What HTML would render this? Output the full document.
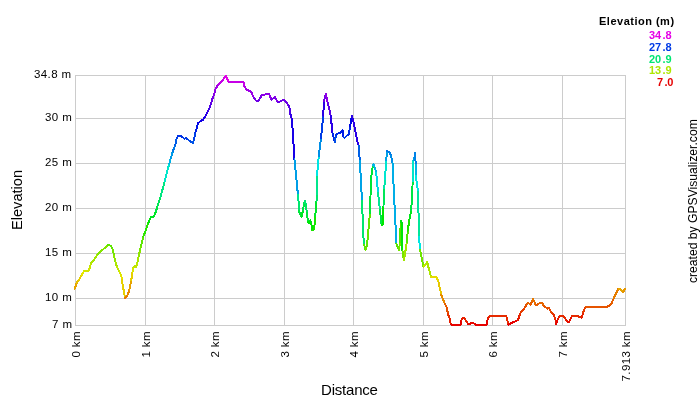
<!DOCTYPE html>
<html><head><meta charset="utf-8"><style>
html,body{margin:0;padding:0;background:#fff;}
body{width:700px;height:400px;position:relative;overflow:hidden;-webkit-font-smoothing:antialiased;font-family:"Liberation Sans",sans-serif;color:#000;}
.g{position:absolute;background:#cccccc;}
body>div:not(.g){will-change:transform;}
.yl{position:absolute;right:628px;font-size:11.5px;line-height:12px;letter-spacing:0.4px;white-space:nowrap;text-align:right;}
.xl{position:absolute;font-size:11.5px;line-height:12px;letter-spacing:0.4px;white-space:nowrap;transform-origin:0 0;transform:rotate(-90deg);}
.leg{position:absolute;right:28.9px;font-size:11px;font-weight:bold;line-height:11px;text-align:right;white-space:nowrap;}
svg{position:absolute;left:0;top:0;}
</style></head><body>

<div class="g" style="left:75px;top:75px;width:1px;height:251px"></div>
<div class="g" style="left:145px;top:75px;width:1px;height:251px"></div>
<div class="g" style="left:214px;top:75px;width:1px;height:251px"></div>
<div class="g" style="left:284px;top:75px;width:1px;height:251px"></div>
<div class="g" style="left:353px;top:75px;width:1px;height:251px"></div>
<div class="g" style="left:423px;top:75px;width:1px;height:251px"></div>
<div class="g" style="left:492px;top:75px;width:1px;height:251px"></div>
<div class="g" style="left:562px;top:75px;width:1px;height:251px"></div>
<div class="g" style="left:625px;top:75px;width:1px;height:251px"></div>
<div class="g" style="left:75px;top:75px;width:551px;height:1px"></div>
<div class="g" style="left:75px;top:118px;width:551px;height:1px"></div>
<div class="g" style="left:75px;top:163px;width:551px;height:1px"></div>
<div class="g" style="left:75px;top:208px;width:551px;height:1px"></div>
<div class="g" style="left:75px;top:253px;width:551px;height:1px"></div>
<div class="g" style="left:75px;top:298px;width:551px;height:1px"></div>
<div class="g" style="left:75px;top:325px;width:551px;height:1px"></div>
<div class="yl" style="top:68px">34.8 m</div>
<div class="yl" style="top:111px">30 m</div>
<div class="yl" style="top:156px">25 m</div>
<div class="yl" style="top:201px">20 m</div>
<div class="yl" style="top:246px">15 m</div>
<div class="yl" style="top:291px">10 m</div>
<div class="yl" style="top:318px">7 m</div>
<div class="xl" style="left:70.4px;top:401.4px;width:70px;text-align:right">0 km</div>
<div class="xl" style="left:140.4px;top:401.4px;width:70px;text-align:right">1 km</div>
<div class="xl" style="left:209.4px;top:401.4px;width:70px;text-align:right">2 km</div>
<div class="xl" style="left:279.4px;top:401.4px;width:70px;text-align:right">3 km</div>
<div class="xl" style="left:348.4px;top:401.4px;width:70px;text-align:right">4 km</div>
<div class="xl" style="left:418.4px;top:401.4px;width:70px;text-align:right">5 km</div>
<div class="xl" style="left:487.4px;top:401.4px;width:70px;text-align:right">6 km</div>
<div class="xl" style="left:557.4px;top:401.4px;width:70px;text-align:right">7 km</div>
<div class="xl" style="left:620.4px;top:401.4px;width:70px;text-align:right">7.913 km</div>
<div style="position:absolute;left:10.4px;top:230px;font-size:14.6px;line-height:15px;transform-origin:0 0;transform:rotate(-90deg);white-space:nowrap">Elevation</div>
<div style="position:absolute;left:321px;top:382px;font-size:15px;line-height:15px;letter-spacing:-0.2px;white-space:nowrap">Distance</div>
<div style="position:absolute;left:686.6px;top:282.8px;font-size:12.15px;line-height:12px;transform-origin:0 0;transform:rotate(-90deg);white-space:nowrap">created by GPSVisualizer.com</div>
<div class="leg" style="top:16px;letter-spacing:0.5px;right:25px">Elevation (m)</div>
<div class="leg" style="top:30.00px;color:#e500e6;">34<span style="margin:0 -0.2px 0 1.3px">.</span>8</div>
<div class="leg" style="top:41.75px;color:#003be6;">27<span style="margin:0 -0.2px 0 1.3px">.</span>8</div>
<div class="leg" style="top:53.50px;color:#00e673;">20<span style="margin:0 -0.2px 0 1.3px">.</span>9</div>
<div class="leg" style="top:65.25px;color:#aee600;">13<span style="margin:0 -0.2px 0 1.3px">.</span>9</div>
<div class="leg" style="top:77.00px;color:#e60000;right:27px;">7<span style="margin:0 -0.2px 0 1.3px">.</span>0</div>
<svg width="700" height="400" viewBox="0 0 700 400"><g stroke-width="2" stroke-linecap="round" stroke-linejoin="round" fill="none" shape-rendering="crispEdges">
<path d="M74.50 289.20 L76.80 282.70" stroke="#e6a400"/>
<path d="M76.80 282.70 L78.90 280.00" stroke="#e6c200"/>
<path d="M78.90 280.00 L81.60 275.10" stroke="#e6cf00"/>
<path d="M81.60 275.10 L84.40 270.60" stroke="#e6e500"/>
<path d="M84.40 270.60 L88.50 271.00" stroke="#d1e600"/>
<path d="M88.50 271.00 L89.90 267.60" stroke="#d3e600"/>
<path d="M89.90 267.60 L91.00 262.80" stroke="#c4e600"/>
<path d="M91.00 262.80 L93.30 260.70" stroke="#aee600"/>
<path d="M93.30 260.70 L98.10 253.80" stroke="#a4e600"/>
<path d="M98.10 253.80 L108.00 245.00" stroke="#84e600"/>
<path d="M108.00 245.00 L111.00 245.80" stroke="#5ce600"/>
<path d="M111.00 245.80 L113.00 250.00" stroke="#5fe600"/>
<path d="M113.00 250.00 L114.00 256.00" stroke="#73e600"/>
<path d="M114.00 256.00 L115.50 262.00" stroke="#8ee600"/>
<path d="M115.50 262.00 L117.00 267.00" stroke="#aae600"/>
<path d="M117.00 267.00 L119.50 272.00" stroke="#c1e600"/>
<path d="M119.50 272.00 L121.30 275.50" stroke="#d8e600"/>
<path d="M121.30 275.50 L121.80 279.70" stroke="#e6e300"/>
<path d="M121.80 279.70 L125.00 298.10" stroke="#e6d000"/>
<path d="M125.00 298.10 L127.50 295.00" stroke="#e67b00"/>
<path d="M127.50 295.00 L129.40 290.00" stroke="#e68a00"/>
<path d="M129.40 290.00 L131.25 280.00" stroke="#e6a100"/>
<path d="M131.25 280.00 L132.50 272.50" stroke="#e6cf00"/>
<path d="M132.50 272.50 L133.10 267.50" stroke="#dae600"/>
<path d="M133.10 267.50 L135.00 265.60" stroke="#c3e600"/>
<path d="M135.00 265.60 L136.25 266.90" stroke="#bae600"/>
<path d="M136.25 266.90 L137.50 261.90" stroke="#c0e600"/>
<path d="M137.50 261.90 L138.75 256.25" stroke="#a9e600"/>
<path d="M138.75 256.25 L140.00 250.00" stroke="#8fe600"/>
<path d="M140.00 250.00 L141.30 245.00" stroke="#73e600"/>
<path d="M141.30 245.00 L143.25 236.70" stroke="#5ce600"/>
<path d="M143.25 236.70 L144.75 233.00" stroke="#36e600"/>
<path d="M144.75 233.00 L148.50 222.50" stroke="#25e600"/>
<path d="M148.50 222.50 L150.75 217.25" stroke="#00e60b"/>
<path d="M150.75 217.25 L153.75 216.50" stroke="#00e624"/>
<path d="M153.75 216.50 L156.00 211.25" stroke="#00e627"/>
<path d="M156.00 211.25 L157.50 206.00" stroke="#00e63f"/>
<path d="M157.50 206.00 L160.50 197.00" stroke="#00e657"/>
<path d="M160.50 197.00 L164.75 181.00" stroke="#00e681"/>
<path d="M164.75 181.00 L169.25 163.75" stroke="#00e6ca"/>
<path d="M169.25 163.75 L170.75 158.50" stroke="#00b2e6"/>
<path d="M170.75 158.50 L173.00 151.00" stroke="#009ae6"/>
<path d="M173.00 151.00 L175.25 145.00" stroke="#0077e6"/>
<path d="M175.25 145.00 L176.75 138.25" stroke="#005ce6"/>
<path d="M176.75 138.25 L178.25 136.00" stroke="#003de6"/>
<path d="M178.25 136.00 L181.00 136.00 L184.50 138.80" stroke="#0032e6"/>
<path d="M184.50 138.80 L186.00 138.00" stroke="#003fe6"/>
<path d="M186.00 138.00 L188.50 140.00" stroke="#003ce6"/>
<path d="M188.50 140.00 L191.00 142.00" stroke="#0045e6"/>
<path d="M191.00 142.00 L193.00 143.00" stroke="#004ee6"/>
<path d="M193.00 143.00 L194.00 139.00" stroke="#0053e6"/>
<path d="M194.00 139.00 L195.50 132.00" stroke="#0040e6"/>
<path d="M195.50 132.00 L196.50 129.20" stroke="#0020e6"/>
<path d="M196.50 129.20 L198.00 123.25" stroke="#0013e6"/>
<path d="M198.00 123.25 L200.00 121.60" stroke="#0800e6"/>
<path d="M200.00 121.60 L203.00 119.75" stroke="#1000e6"/>
<path d="M203.00 119.75 L205.25 116.75" stroke="#1800e6"/>
<path d="M205.25 116.75 L207.50 112.25" stroke="#2600e6"/>
<path d="M207.50 112.25 L209.75 107.40" stroke="#3b00e6"/>
<path d="M209.75 107.40 L211.25 103.25" stroke="#5100e6"/>
<path d="M211.25 103.25 L212.40 98.75" stroke="#6400e6"/>
<path d="M212.40 98.75 L213.90 95.40" stroke="#7800e6"/>
<path d="M213.90 95.40 L215.25 89.50" stroke="#8800e6"/>
<path d="M215.25 89.50 L218.25 84.25" stroke="#a300e6"/>
<path d="M218.25 84.25 L221.25 82.00" stroke="#bb00e6"/>
<path d="M221.25 82.00 L223.50 79.00" stroke="#c500e6"/>
<path d="M223.50 79.00 L225.75 76.00" stroke="#d300e6"/>
<path d="M225.75 76.00 L228.50 81.80" stroke="#e100e6"/>
<path d="M228.50 81.80 L243.50 81.80 L244.50 86.50" stroke="#c600e6"/>
<path d="M244.50 86.50 L246.00 89.00" stroke="#b100e6"/>
<path d="M246.00 89.00 L249.00 91.00" stroke="#a500e6"/>
<path d="M249.00 91.00 L251.00 91.50" stroke="#9c00e6"/>
<path d="M251.00 91.50 L254.00 98.00" stroke="#9a00e6"/>
<path d="M254.00 98.00 L256.00 100.50" stroke="#7c00e6"/>
<path d="M256.00 100.50 L258.00 101.50" stroke="#7000e6"/>
<path d="M258.00 101.50 L259.50 99.00" stroke="#6c00e6"/>
<path d="M259.50 99.00 L262.00 95.00" stroke="#7700e6"/>
<path d="M262.00 95.00 L265.00 94.50" stroke="#8a00e6"/>
<path d="M265.00 94.50 L267.00 93.80" stroke="#8c00e6"/>
<path d="M267.00 93.80 L269.00 94.00" stroke="#8f00e6"/>
<path d="M269.00 94.00 L271.50 99.50" stroke="#8e00e6"/>
<path d="M271.50 99.50 L275.00 97.00" stroke="#7500e6"/>
<path d="M275.00 97.00 L278.00 102.50" stroke="#8100e6"/>
<path d="M278.00 102.50 L281.00 101.00" stroke="#6700e6"/>
<path d="M281.00 101.00 L284.00 99.50" stroke="#6e00e6"/>
<path d="M284.00 99.50 L286.00 102.00" stroke="#7500e6"/>
<path d="M286.00 102.00 L288.50 105.50" stroke="#6a00e6"/>
<path d="M288.50 105.50 L289.50 108.00" stroke="#5a00e6"/>
<path d="M289.50 108.00 L290.50 114.50" stroke="#4e00e6"/>
<path d="M290.50 114.50 L292.00 119.70" stroke="#3000e6"/>
<path d="M292.00 119.70 L294.50 159.50" stroke="#1800e6"/>
<path d="M294.50 159.50 L297.90 194.50" stroke="#009ee6"/>
<path d="M297.90 194.50 L298.50 201.20" stroke="#00e68c"/>
<path d="M298.50 201.20 L299.00 211.30" stroke="#00e66d"/>
<path d="M299.00 211.30 L300.20 214.20" stroke="#00e63f"/>
<path d="M300.20 214.20 L301.60 217.00" stroke="#00e632"/>
<path d="M301.60 217.00 L303.00 210.20" stroke="#00e625"/>
<path d="M303.00 210.20 L304.70 200.70" stroke="#00e644"/>
<path d="M304.70 200.70 L305.80 204.60" stroke="#00e670"/>
<path d="M305.80 204.60 L306.90 212.50" stroke="#00e65e"/>
<path d="M306.90 212.50 L308.00 221.50" stroke="#00e639"/>
<path d="M308.00 221.50 L308.60 223.10" stroke="#00e610"/>
<path d="M308.60 223.10 L310.30 220.30" stroke="#00e609"/>
<path d="M310.30 220.30 L311.40 223.70" stroke="#00e616"/>
<path d="M311.40 223.70 L312.00 230.40" stroke="#00e606"/>
<path d="M312.00 230.40 L314.20 229.30" stroke="#19e600"/>
<path d="M314.20 229.30 L315.30 215.80" stroke="#14e600"/>
<path d="M315.30 215.80 L316.50 201.20" stroke="#00e62a"/>
<path d="M316.50 201.20 L317.00 194.50" stroke="#00e66d"/>
<path d="M317.00 194.50 L317.00 175.50" stroke="#00e68c"/>
<path d="M317.00 175.50 L318.80 156.00" stroke="#00e6e3"/>
<path d="M318.80 156.00 L321.00 138.00" stroke="#008ee6"/>
<path d="M321.00 138.00 L323.20 115.70" stroke="#003ce6"/>
<path d="M323.20 115.70 L324.00 100.70" stroke="#2b00e6"/>
<path d="M324.00 100.70 L325.80 94.00" stroke="#7000e6"/>
<path d="M325.80 94.00 L327.70 103.00" stroke="#8e00e6"/>
<path d="M327.70 103.00 L328.20 104.50" stroke="#6500e6"/>
<path d="M328.20 104.50 L330.70 115.70" stroke="#5e00e6"/>
<path d="M330.70 115.70 L332.50 133.00" stroke="#2b00e6"/>
<path d="M332.50 133.00 L334.80 142.00" stroke="#0025e6"/>
<path d="M334.80 142.00 L336.00 135.00" stroke="#004ee6"/>
<path d="M336.00 135.00 L338.00 133.50" stroke="#002ee6"/>
<path d="M338.00 133.50 L340.50 132.50" stroke="#0027e6"/>
<path d="M340.50 132.50 L342.50 130.50" stroke="#0022e6"/>
<path d="M342.50 130.50 L343.50 137.00" stroke="#0019e6"/>
<path d="M343.50 137.00 L344.50 138.00" stroke="#0037e6"/>
<path d="M344.50 138.00 L347.00 135.50" stroke="#003ce6"/>
<path d="M347.00 135.50 L349.00 134.50" stroke="#0030e6"/>
<path d="M349.00 134.50 L350.00 126.50" stroke="#002ce6"/>
<path d="M350.00 126.50 L352.00 115.50" stroke="#0007e6"/>
<path d="M352.00 115.50 L354.00 124.00" stroke="#2c00e6"/>
<path d="M354.00 124.00 L357.00 140.00 L358.70 146.00" stroke="#2900e6"/>
<path d="M358.70 146.00 L359.80 160.50" stroke="#0060e6"/>
<path d="M359.80 160.50 L362.00 200.50" stroke="#00a3e6"/>
<path d="M362.00 200.50 L363.25 234.00 L364.00 244.50" stroke="#00e670"/>
<path d="M364.00 244.50 L365.50 249.70" stroke="#5ae600"/>
<path d="M365.50 249.70 L367.00 246.00" stroke="#71e600"/>
<path d="M367.00 246.00 L368.50 229.50 L370.00 213.00" stroke="#60e600"/>
<path d="M370.00 213.00 L371.00 179.00 L373.00 165.00" stroke="#00e637"/>
<path d="M373.00 165.00 L373.75 164.50" stroke="#00b8e6"/>
<path d="M373.75 164.50 L376.25 172.50" stroke="#00b5e6"/>
<path d="M376.25 172.50 L378.00 193.00" stroke="#00dae6"/>
<path d="M378.00 193.00 L380.00 210.00" stroke="#00e693"/>
<path d="M380.00 210.00 L381.60 225.00" stroke="#00e645"/>
<path d="M381.60 225.00 L382.50 225.00 L383.50 206.00" stroke="#00e600"/>
<path d="M383.50 206.00 L384.25 188.00" stroke="#00e657"/>
<path d="M384.25 188.00 L385.00 179.50" stroke="#00e6aa"/>
<path d="M385.00 179.50 L386.20 160.00" stroke="#00e6d1"/>
<path d="M386.20 160.00 L387.20 151.00" stroke="#00a1e6"/>
<path d="M387.20 151.00 L389.50 152.50" stroke="#0077e6"/>
<path d="M389.50 152.50 L391.00 155.50" stroke="#007ee6"/>
<path d="M391.00 155.50 L392.50 163.00" stroke="#008ce6"/>
<path d="M392.50 163.00 L396.40 243.70" stroke="#00aee6"/>
<path d="M396.40 243.70 L399.00 250.00" stroke="#56e600"/>
<path d="M399.00 250.00 L400.00 242.00" stroke="#73e600"/>
<path d="M400.00 242.00 L400.75 221.00" stroke="#4ee600"/>
<path d="M400.75 221.00 L401.60 222.80" stroke="#00e612"/>
<path d="M401.60 222.80 L402.50 250.80" stroke="#00e60a"/>
<path d="M402.50 250.80 L403.90 260.40" stroke="#76e600"/>
<path d="M403.90 260.40 L406.90 242.00" stroke="#a2e600"/>
<path d="M406.90 242.00 L407.75 230.60" stroke="#4ee600"/>
<path d="M407.75 230.60 L409.50 219.00" stroke="#1ae600"/>
<path d="M409.50 219.00 L411.25 210.50" stroke="#00e61c"/>
<path d="M411.25 210.50 L412.75 181.00" stroke="#00e643"/>
<path d="M412.75 181.00 L413.50 160.00" stroke="#00e6ca"/>
<path d="M413.50 160.00 L414.25 158.50" stroke="#00a1e6"/>
<path d="M414.25 158.50 L415.00 153.25" stroke="#009ae6"/>
<path d="M415.00 153.25 L415.75 164.50" stroke="#0082e6"/>
<path d="M415.75 164.50 L415.75 175.70" stroke="#00b5e6"/>
<path d="M415.75 175.70 L418.00 191.50" stroke="#00e6e2"/>
<path d="M418.00 191.50 L419.10 236.80" stroke="#00e69a"/>
<path d="M419.10 236.80 L420.00 249.50" stroke="#00e6e1"/>
<path d="M420.00 249.50 L423.40 266.90" stroke="#70e600"/>
<path d="M423.40 266.90 L427.20 262.20" stroke="#c0e600"/>
<path d="M427.20 262.20 L431.00 277.20" stroke="#abe600"/>
<path d="M431.00 277.20 L436.60 277.20 L438.50 281.90" stroke="#e6db00"/>
<path d="M438.50 281.90 L441.30 295.00" stroke="#e6c600"/>
<path d="M441.30 295.00 L445.00 304.20" stroke="#e68a00"/>
<path d="M445.00 304.20 L446.75 307.25" stroke="#e65f00"/>
<path d="M446.75 307.25 L448.00 314.25" stroke="#e65100"/>
<path d="M448.00 314.25 L449.80 318.60" stroke="#e63100"/>
<path d="M449.80 318.60 L450.70 324.50" stroke="#e61d00"/>
<path d="M450.70 324.50 L460.60 324.50 L461.60 319.50" stroke="#e60200"/>
<path d="M461.60 319.50 L463.80 317.60" stroke="#e61900"/>
<path d="M463.80 317.60 L468.20 323.90" stroke="#e62200"/>
<path d="M468.20 323.90 L470.40 323.70" stroke="#e60500"/>
<path d="M470.40 323.70 L471.90 322.60" stroke="#e60600"/>
<path d="M471.90 322.60 L473.90 323.40" stroke="#e60b00"/>
<path d="M473.90 323.40 L475.20 324.50" stroke="#e60700"/>
<path d="M475.20 324.50 L486.60 324.50 L487.90 318.60" stroke="#e60200"/>
<path d="M487.90 318.60 L489.60 315.75" stroke="#e61d00"/>
<path d="M489.60 315.75 L506.25 315.75 L508.50 324.50" stroke="#e62a00"/>
<path d="M508.50 324.50 L518.00 320.00" stroke="#e60200"/>
<path d="M518.00 320.00 L519.50 315.50" stroke="#e61700"/>
<path d="M519.50 315.50 L521.00 312.00" stroke="#e62c00"/>
<path d="M521.00 312.00 L524.50 308.00" stroke="#e63c00"/>
<path d="M524.50 308.00 L527.00 304.00" stroke="#e64e00"/>
<path d="M527.00 304.00 L528.50 303.00" stroke="#e66000"/>
<path d="M528.50 303.00 L530.50 305.00" stroke="#e66500"/>
<path d="M530.50 305.00 L532.00 301.50" stroke="#e65c00"/>
<path d="M532.00 301.50 L533.00 299.00" stroke="#e66c00"/>
<path d="M533.00 299.00 L534.00 301.00" stroke="#e67700"/>
<path d="M534.00 301.00 L535.50 304.50" stroke="#e66e00"/>
<path d="M535.50 304.50 L537.00 305.00" stroke="#e65e00"/>
<path d="M537.00 305.00 L539.00 303.50" stroke="#e65c00"/>
<path d="M539.00 303.50 L542.00 303.00" stroke="#e66300"/>
<path d="M542.00 303.00 L544.00 306.00" stroke="#e66500"/>
<path d="M544.00 306.00 L547.50 308.50" stroke="#e65700"/>
<path d="M547.50 308.50 L549.00 307.50" stroke="#e64c00"/>
<path d="M549.00 307.50 L550.00 310.00" stroke="#e65000"/>
<path d="M550.00 310.00 L552.00 313.50" stroke="#e64500"/>
<path d="M552.00 313.50 L554.00 315.00" stroke="#e63500"/>
<path d="M554.00 315.00 L555.50 320.00" stroke="#e62e00"/>
<path d="M555.50 320.00 L556.25 324.00" stroke="#e61700"/>
<path d="M556.25 324.00 L557.75 319.50" stroke="#e60500"/>
<path d="M557.75 319.50 L560.00 315.75" stroke="#e61900"/>
<path d="M560.00 315.75 L563.00 315.75 L566.00 319.50" stroke="#e62a00"/>
<path d="M566.00 319.50 L567.50 322.20" stroke="#e61900"/>
<path d="M567.50 322.20 L569.25 321.70" stroke="#e60d00"/>
<path d="M569.25 321.70 L572.00 315.75" stroke="#e60f00"/>
<path d="M572.00 315.75 L576.50 315.75 L580.25 317.25" stroke="#e62a00"/>
<path d="M580.25 317.25 L581.75 317.70" stroke="#e62400"/>
<path d="M581.75 317.70 L583.25 312.00" stroke="#e62200"/>
<path d="M583.25 312.00 L585.50 306.75" stroke="#e63c00"/>
<path d="M585.50 306.75 L607.25 306.75 L611.00 304.50" stroke="#e65400"/>
<path d="M611.00 304.50 L614.00 297.75" stroke="#e65e00"/>
<path d="M614.00 297.75 L618.50 288.75" stroke="#e67d00"/>
<path d="M618.50 288.75 L620.75 289.20" stroke="#e6a600"/>
<path d="M620.75 289.20 L623.00 292.20" stroke="#e6a400"/>
<path d="M623.00 292.20 L625.00 288.75" stroke="#e69700"/>
</g></svg>
</body></html>
